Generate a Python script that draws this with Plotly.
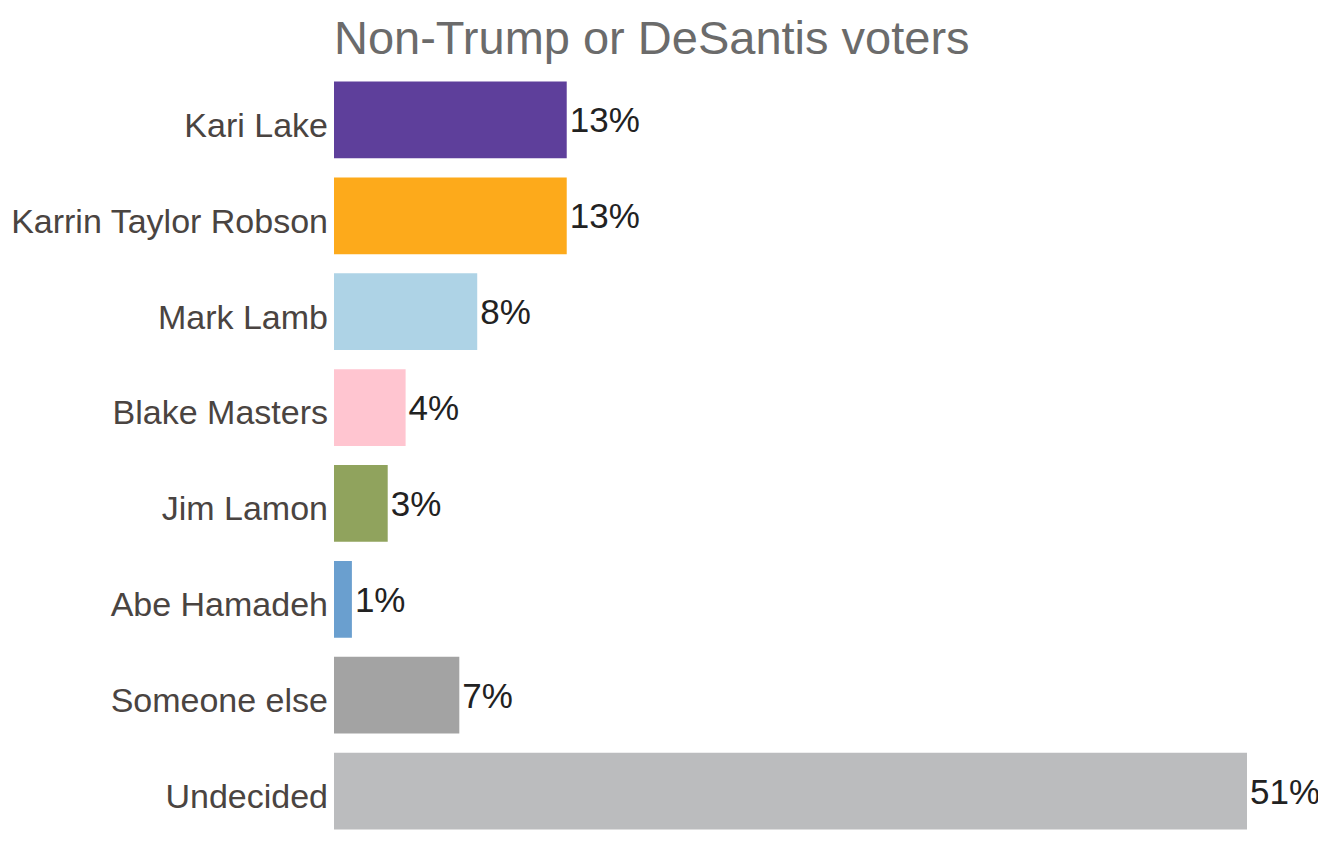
import plotly.graph_objects as go

categories = ["Kari Lake", "Karrin Taylor Robson", "Mark Lamb", "Blake Masters",
              "Jim Lamon", "Abe Hamadeh", "Someone else", "Undecided"]
values = [13, 13, 8, 4, 3, 1, 7, 51]
labels = ["13%", "13%", "8%", "4%", "3%", "1%", "7%", "51%"]
colors = ["#5E3F9B", "#FDAA1B", "#AED3E6", "#FFC5D0", "#90A35D", "#6A9FCF", "#A3A3A3", "#BBBCBE"]
title_text = "Non-Trump or DeSantis voters"

FONT = "Arial, 'Liberation Sans', sans-serif"

fig = go.Figure(go.Bar(
    y=categories, x=values, orientation="h",
    marker=dict(color=colors, line=dict(width=0)),
    text=labels, textposition="outside", cliponaxis=False,
    textfont=dict(family=FONT, size=35, color="#222222"),
    hoverinfo="skip",
))

fig.update_layout(
    width=1326, height=843,
    paper_bgcolor="white", plot_bgcolor="white",
    margin=dict(l=326, r=87, t=64, b=12, autoexpand=False),
    bargap=0.2,
    showlegend=False,
    xaxis=dict(range=[0, 51], visible=False, showgrid=False, zeroline=False),
    yaxis=dict(autorange="reversed", showgrid=False, zeroline=False, showline=False,
               ticks="", ticklabelstandoff=5, ticklabelshift=-5,
               tickfont=dict(family=FONT, size=34, color="#4A4441")),
    annotations=[dict(text=title_text, xref="paper", yref="paper",
                      x=0, xanchor="left", xshift=-2,
                      y=1, yanchor="bottom", yshift=6, showarrow=False,
                      font=dict(family=FONT, size=47, color="#6B6B6B"))],
)

fig.write_html("out.html")
